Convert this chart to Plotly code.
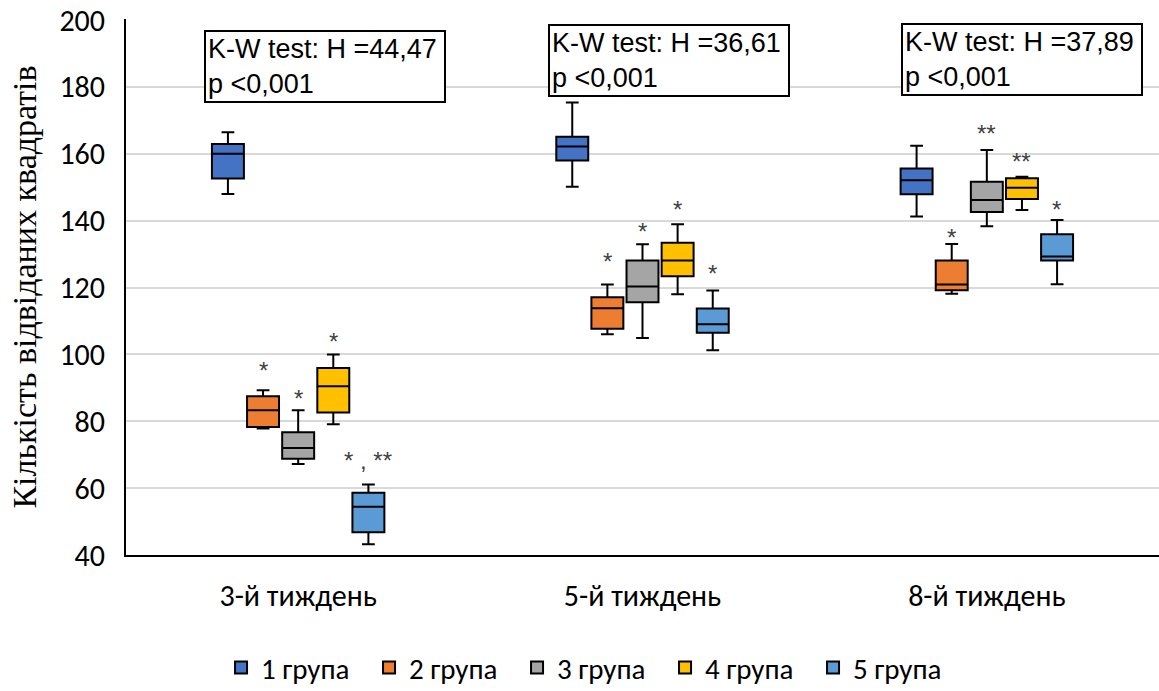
import plotly.graph_objects as go

weeks = ["3-й тиждень", "5-й тиждень", "8-й тиждень"]
groups = ["1 група", "2 група", "3 група", "4 група", "5 група"]
colors = ["#4472C4", "#ED7D31", "#A5A5A5", "#FFC000", "#5B9BD5"]

lower = [
    [148.0, 150.1, 141.2],
    [77.8, 106.0, 118.1],
    [67.2, 104.9, 138.3],
    [79.1, 118.0, 143.2],
    [43.2, 101.2, 121.0],
]
q1 = [
    [152.6, 158.0, 147.9],
    [78.3, 107.7, 119.2],
    [68.8, 115.6, 142.6],
    [82.6, 123.4, 146.5],
    [46.8, 106.5, 128.1],
]
median = [
    [160.0, 162.2, 152.1],
    [83.3, 113.8, 120.9],
    [72.0, 120.3, 146.2],
    [90.5, 128.1, 149.8],
    [54.4, 109.0, 129.3],
]
q3 = [
    [162.9, 165.1, 155.6],
    [87.5, 117.1, 128.1],
    [76.7, 128.1, 151.6],
    [95.9, 133.4, 152.7],
    [58.6, 113.7, 135.9],
]
upper = [
    [166.4, 175.3, 162.4],
    [89.3, 120.9, 133.0],
    [83.3, 132.9, 161.1],
    [100.0, 138.9, 153.1],
    [61.1, 119.1, 140.2],
]

# significance marks above boxes
marks = [
    ["", "", ""],
    ["*", "*", "*"],
    ["*", "*", "**"],
    ["*", "*", "**"],
    ["* , **", "*", "*"],
]
mark_y = [
    [None, None, None],
    [96.1, 128.7, 135.8],
    [87.8, 137.6, 166.9],
    [104.8, 144.2, 158.5],
    [69.3, 125.1, 144.2],
]

test_texts = [
    "K-W test: H =44,47<br>p <0,001",
    "K-W test: H =36,61<br>p <0,001",
    "K-W test: H =37,89<br>p <0,001",
]
test_x = [-0.274, 0.726, 1.751]
test_y = [197.0, 198.8, 199.2]

fig = go.Figure()
for gi, g in enumerate(groups):
    fig.add_trace(go.Box(
        name=g,
        x=weeks,
        lowerfence=lower[gi],
        q1=q1[gi],
        median=median[gi],
        q3=q3[gi],
        upperfence=upper[gi],
        fillcolor=colors[gi],
        line=dict(color="#000000", width=2),
        whiskerwidth=0.4,
        boxpoints=False,
        hoverinfo="skip",
    ))

annotations = []
slot_px = 35
for gi in range(len(groups)):
    for wi in range(len(weeks)):
        if marks[gi][wi]:
            annotations.append(dict(
                x=wi, y=mark_y[gi][wi], xref="x", yref="y",
                text=marks[gi][wi], showarrow=False,
                xshift=(gi - 2) * slot_px, yshift=-3,
                yanchor="middle", xanchor="center",
                font=dict(family="Liberation Sans, Arial", size=24, color="#404040"),
            ))

for i, t in enumerate(test_texts):
    annotations.append(dict(
        x=test_x[i], y=test_y[i], xref="x", yref="y",
        text=t, showarrow=False, align="left",
        xanchor="left", yanchor="top",
        bordercolor="#000000", borderwidth=2, borderpad=2,
        bgcolor="#FFFFFF", width=234,
        font=dict(family="Liberation Sans, Arial", size=27, color="#000000"),
    ))

fig.update_layout(
    width=1159, height=691,
    margin=dict(l=126, r=0, t=19, b=136, autoexpand=False),
    paper_bgcolor="#FFFFFF", plot_bgcolor="#FFFFFF",
    boxmode="group", boxgap=0.49, boxgroupgap=0.09,
    showlegend=True,
    legend=dict(
        orientation="h", x=0.092, xanchor="left", y=-0.21, yanchor="middle",
        font=dict(family="Carlito, Lato, sans-serif", size=29, color="#000000"),
        entrywidth=103, entrywidthmode="pixels",
        traceorder="normal",
    ),
    annotations=annotations,
    xaxis=dict(
        type="category", showline=True, linecolor="#000000", linewidth=2,
        showgrid=False, ticks="", ticklabelstandoff=13, automargin=False,
        tickfont=dict(family="Carlito, Lato, sans-serif", size=30, color="#000000"),
        range=[-0.5, 2.5],
    ),
    yaxis=dict(
        range=[40, 200.3], automargin=False,
        tickvals=[40, 60, 80, 100, 120, 140, 160, 180, 200],
        ticklabeloverflow="allow",
        showline=True, linecolor="#000000", linewidth=2,
        showgrid=True, gridcolor="#D9D9D9", gridwidth=1.5,
        zeroline=False, ticks="", ticklabelstandoff=13,
        tickfont=dict(family="Carlito, Lato, sans-serif", size=30, color="#000000"),
        title=dict(
            text="Кількість відвіданих квадратів", standoff=12,
            font=dict(family="Liberation Serif, Times New Roman, serif", size=34, color="#000000"),
        ),
    ),
)

# remove the default page margin so the figure fills the window exactly
fig.write_html(
    "out.html",
    config={"displayModeBar": False},
    post_script="document.body.style.margin='0';",
)
